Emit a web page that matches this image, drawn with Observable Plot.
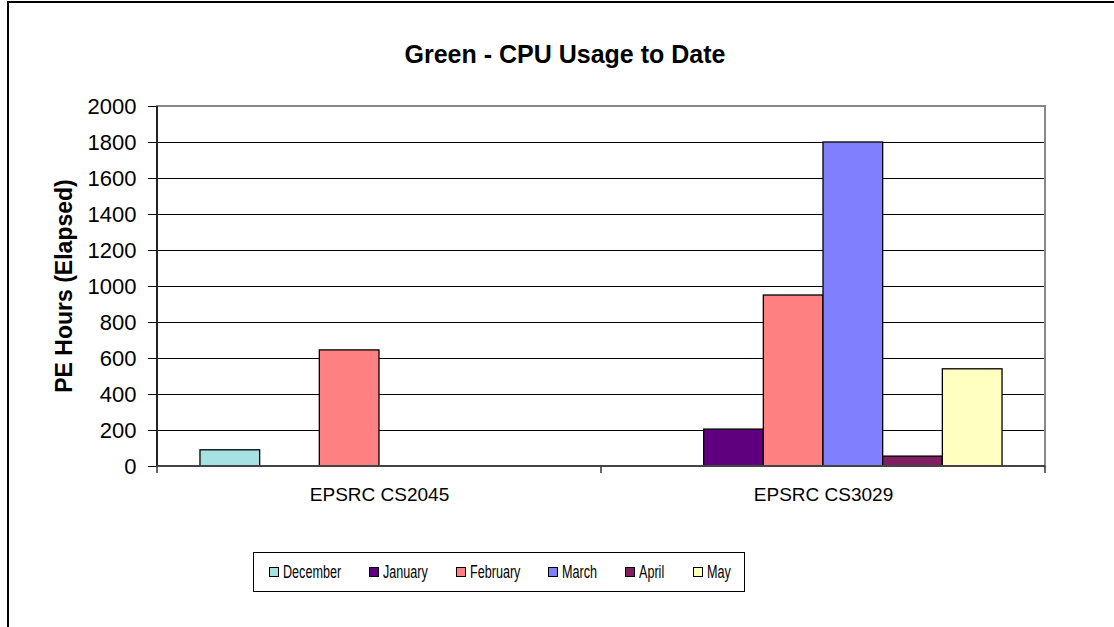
<!DOCTYPE html>
<html>
<head>
<meta charset="utf-8">
<script src="https://cdn.jsdelivr.net/npm/d3@7"></script>
<script src="https://cdn.jsdelivr.net/npm/@observablehq/plot@0.6"></script>
<style>
  html, body { margin: 0; padding: 0; background: #fff; }
  body { font-family: "Liberation Sans", Arial, sans-serif; color: #000; }
  #wrap { position: relative; width: 1114px; height: 627px; overflow: hidden; }
  #border { position: absolute; left: 7px; top: 1px; width: 2000px; height: 2000px;
            border-left: 2px solid #000; border-top: 2px solid #000; }
  #chart { position: absolute; left: 0; top: 0; }
  #title { position: absolute; left: 16px; width: 1098px; top: 40px; text-align: center;
           font-weight: bold; font-size: 25px; line-height: normal; white-space: nowrap; }
  #ylabel { position: absolute; left: -86px; top: 272px; width: 300px; text-align: center;
            font-weight: bold; font-size: 23px; line-height: 28px; height: 28px;
            transform: rotate(-90deg); transform-origin: 150px 14px; white-space: nowrap; }
  #legend { position: absolute; left: 253px; top: 552px; height: 38px; box-sizing: content-box;
            border: 1px solid #000; display: flex; align-items: center; gap: 28px;
            padding: 0 14px 0 15px; background: #fff; }
  .item { display: flex; align-items: center; white-space: nowrap; }
  .sw { width: 8px; height: 8px; border: 1px solid #000; margin-right: 4px; }
  .lbl { display: block; overflow: visible; height: 20px; position: relative; }
  .lbl span { position: absolute; left: 0; top: 0; font-size: 17.5px; line-height: 20px;
              transform-origin: 0 50%; white-space: nowrap; }
</style>
</head>
<body>
<div id="wrap">
  <div id="border"></div>
  <div id="chart"></div>
  <div id="title"></div>
  <div id="ylabel"></div>
  <div id="legend"></div>
</div>
<script>
// ---- data ----
const titleText = "Green - CPU Usage to Date";
const yLabelText = "PE Hours (Elapsed)";
const projects = ["EPSRC CS2045", "EPSRC CS3029"];
const months = ["December", "January", "February", "March", "April", "May"];
const cs2045 = [90, null, 645, null, null, null];
const cs3029 = [null, 205, 950, 1800, 55, 540];
const yTicks = [0, 200, 400, 600, 800, 1000, 1200, 1400, 1600, 1800, 2000];
const monthColors = ["#a6e2e2", "#5f007f", "#ff8080", "#8080ff", "#7f1f5f", "#ffffc0"];

const seriesByProject = [cs2045, cs3029];
const rows = [];
projects.forEach((p, pi) => {
  months.forEach((m, mi) => {
    const v = seriesByProject[pi][mi];
    if (v != null) rows.push({project: p, month: m, value: v});
  });
});

document.getElementById("title").textContent = titleText;
document.getElementById("ylabel").textContent = yLabelText;

const W = 1114, H = 627;
const chart = Plot.plot({
  width: W, height: H,
  marginLeft: 156, marginRight: 69, marginTop: 106, marginBottom: 161,
  style: {fontFamily: "'Liberation Sans', Arial, sans-serif", background: "transparent", color: "#000", overflow: "visible"},
  fx: {domain: projects, padding: 0, axis: null},
  x: {domain: months, paddingInner: 0, paddingOuter: 0.72, round: false, axis: null},
  y: {domain: [0, 2000], axis: null},
  color: {domain: months, range: monthColors},
  marks: [
    Plot.gridY(yTicks, {stroke: "#000", strokeOpacity: 1, strokeWidth: 1}),
    Plot.axisY(yTicks, {anchor: "left", tickSize: 9, tickPadding: 12, fontSize: 22, label: null,
                        tickFormat: d => String(d), stroke: "#000", strokeOpacity: 1}),
    Plot.barY(rows, {fx: "project", x: "month", y: "value", fill: "month", stroke: "#000", strokeWidth: 1.3}),
    Plot.text(projects, {fx: d => d, text: d => d, frameAnchor: "bottom", lineAnchor: "top", dy: 21, fontSize: 19, fill: "#000"})
  ]
});
document.getElementById("chart").appendChild(chart);

// ---- axis lines, frame and category ticks from the library's scales ----
const fx = chart.scale("fx");
const ys = chart.scale("y");
const svg = d3.select(chart.tagName.toLowerCase() === "svg" ? chart : chart.querySelector("svg"));
const y0 = ys.apply(0), yTop = ys.apply(2000);
const xl = fx.apply(projects[0]);
const xr = fx.apply(projects[projects.length - 1]) + fx.bandwidth;
const g = svg.append("g");
g.append("rect").attr("x", xl).attr("y", yTop).attr("width", xr - xl).attr("height", y0 - yTop)
  .attr("fill", "none").attr("stroke", "#888").attr("stroke-width", 2);
g.append("line").attr("x1", xl).attr("x2", xl).attr("y1", yTop).attr("y2", y0)
  .attr("stroke", "#000").attr("stroke-width", 1.5);
g.append("line").attr("x1", xl).attr("x2", xr).attr("y1", y0).attr("y2", y0)
  .attr("stroke", "#444").attr("stroke-width", 2);
const bounds = projects.map(p => fx.apply(p)).concat([xr]);
g.selectAll("line.ct").data(bounds).join("line").attr("class", "ct")
  .attr("x1", d => d).attr("x2", d => d).attr("y1", y0).attr("y2", y0 + 7)
  .attr("stroke", "#333").attr("stroke-width", 1.5);

// ---- legend (text narrowed like the original's condensed rendering) ----
const squeeze = 0.72;
const legend = d3.select("#legend");
months.forEach((m, i) => {
  const it = legend.append("div").attr("class", "item");
  it.append("div").attr("class", "sw").style("background", monthColors[i]);
  const box = it.append("div").attr("class", "lbl");
  const sp = box.append("span").text(m);
  const w = sp.node().getBoundingClientRect().width;
  box.style("width", (w * squeeze) + "px");
  sp.style("transform", `scaleX(${squeeze})`);
});
</script>
</body>
</html>
